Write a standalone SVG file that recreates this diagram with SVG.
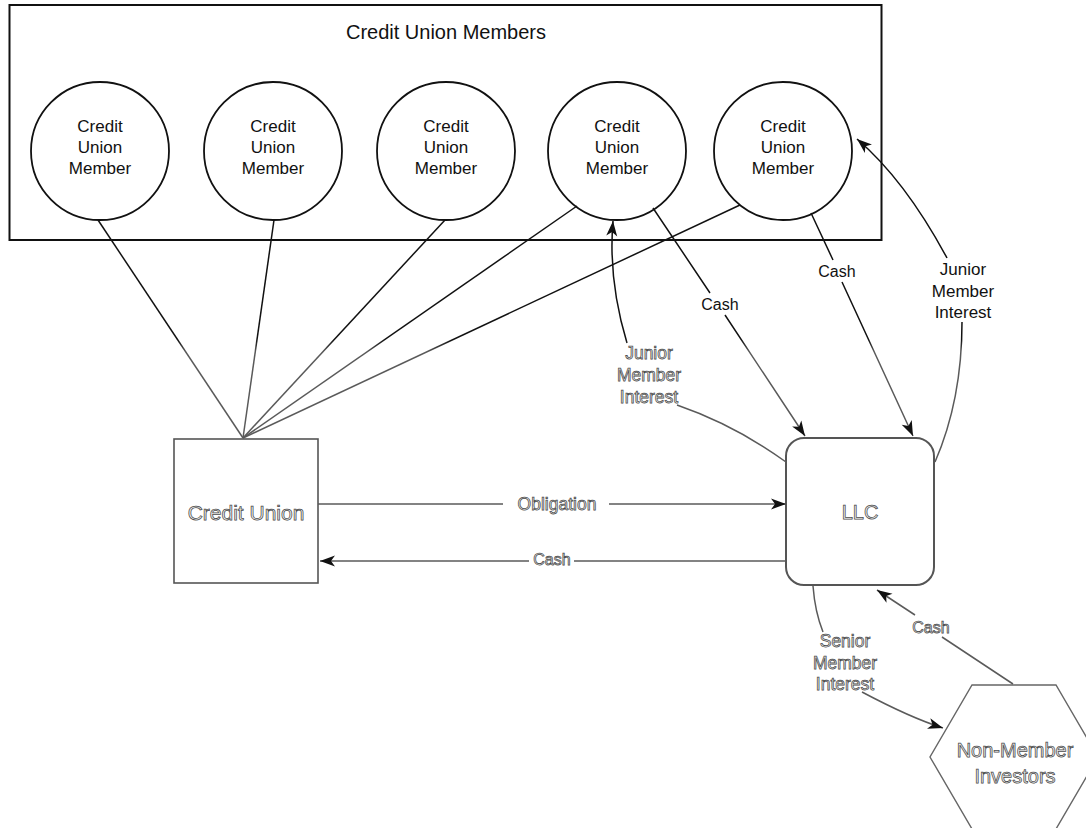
<svg xmlns="http://www.w3.org/2000/svg" width="1086" height="828" viewBox="0 0 1086 828">
<defs>
<linearGradient id="fade" gradientUnits="userSpaceOnUse" x1="0" y1="0" x2="0" y2="828">
<stop offset="0" stop-color="#111"/>
<stop offset="0.41" stop-color="#111"/>
<stop offset="0.425" stop-color="#5a5a5a"/>
<stop offset="1" stop-color="#5a5a5a"/>
</linearGradient>
<marker id="arr" markerUnits="userSpaceOnUse" markerWidth="16" markerHeight="12" refX="15" refY="5.5" orient="auto" overflow="visible">
<path d="M0,0 L15,5.5 L0,11 L4,5.5 Z" fill="#111"/>
</marker>
<style>
.t{font-family:"Liberation Sans",Arial,sans-serif;fill:#111;text-anchor:middle}
.g{font-family:"Liberation Sans",Arial,sans-serif;fill:#f2f2f2;stroke:#4a4a4a;stroke-width:0.75;text-anchor:middle}
.circ{fill:#fff;stroke:#111;stroke-width:1.8}
.ln{fill:none;stroke:url(#fade);stroke-width:1.5}
.ar{marker-end:url(#arr)}
</style>
</defs>
<rect width="1086" height="828" fill="#fff"/>

<g id="members-container">
<rect x="9.5" y="5" width="872" height="235" fill="none" stroke="#111" stroke-width="2"/>
<text class="t" x="446" y="39" font-size="20">Credit Union Members</text>
</g>

<g id="member1">
<circle class="circ" cx="100" cy="151" r="69"/>
<text class="t" x="100" font-size="17"><tspan x="100" y="132">Credit</tspan><tspan x="100" y="153">Union</tspan><tspan x="100" y="174">Member</tspan></text>
</g>
<g id="member2">
<circle class="circ" cx="273" cy="151" r="69"/>
<text class="t" x="273" font-size="17"><tspan x="273" y="132">Credit</tspan><tspan x="273" y="153">Union</tspan><tspan x="273" y="174">Member</tspan></text>
</g>
<g id="member3">
<circle class="circ" cx="446" cy="151" r="69"/>
<text class="t" x="446" font-size="17"><tspan x="446" y="132">Credit</tspan><tspan x="446" y="153">Union</tspan><tspan x="446" y="174">Member</tspan></text>
</g>
<g id="member4">
<circle class="circ" cx="617" cy="151" r="69"/>
<text class="t" x="617" font-size="17"><tspan x="617" y="132">Credit</tspan><tspan x="617" y="153">Union</tspan><tspan x="617" y="174">Member</tspan></text>
</g>
<g id="member5">
<circle class="circ" cx="783" cy="151" r="69"/>
<text class="t" x="783" font-size="17"><tspan x="783" y="132">Credit</tspan><tspan x="783" y="153">Union</tspan><tspan x="783" y="174">Member</tspan></text>
</g>

<g id="credit-union">
<rect x="174" y="439" width="144" height="144" fill="#fff" stroke="#555" stroke-width="1.6"/>
<text class="g" x="246" y="520" font-size="21">Credit Union</text>
</g>

<g id="llc">
<rect x="786" y="438" width="148" height="147" rx="18" fill="#fff" stroke="#555" stroke-width="2"/>
<text class="g" x="860" y="519" font-size="20">LLC</text>
</g>

<g id="investors">
<polygon points="972,685 1056,685 1098,757 1056,829 972,829 930,757" fill="#fff" stroke="#666" stroke-width="1.4"/>
<text class="g" font-size="20"><tspan x="1015" y="757">Non-Member</tspan><tspan x="1015" y="783">Investors</tspan></text>
</g>

<g id="connectors">
<path class="ln" d="M98,220 L243,438"/>
<path class="ln" d="M274,220 L243,438"/>
<path class="ln" d="M445,220 L243,438"/>
<path class="ln" d="M577,206 L243,438"/>
<path class="ln" d="M740,205 L243,438"/>

<path class="ln ar" d="M653,208 L710,293 M725,315 L805,436"/>
<text class="t" x="720" y="310" font-size="16">Cash</text>

<path class="ln ar" d="M811,213 L833,260 M842,282 L913,436"/>
<text class="t" x="837" y="277" font-size="16">Cash</text>

<path class="ln ar" d="M935,462 Q962,400 962,322 M947,258 Q905,180 857,139"/>
<text class="t" font-size="17"><tspan x="963" y="275">Junior</tspan><tspan x="963" y="297">Member</tspan><tspan x="963" y="318">Interest</tspan></text>

<path class="ln ar" d="M786,462 Q735,425 677,405 M627,343 Q608,280 613,221"/>
<text class="g" font-size="17.5"><tspan x="649" y="359">Junior</tspan><tspan x="649" y="381">Member</tspan><tspan x="649" y="403">Interest</tspan></text>

<path class="ln ar" d="M318,504 L503,504 M609,504 L786,504"/>
<text class="g" x="557" y="510" font-size="17.5">Obligation</text>

<path class="ln ar" d="M786,561 L574,561 M529,561 L320,561"/>
<text class="g" x="552" y="565" font-size="16">Cash</text>

<path class="ln ar" d="M813,586 Q815,612 823,632 M862,692 Q911,718 943,728"/>
<text class="g" font-size="17.5"><tspan x="845" y="647">Senior</tspan><tspan x="845" y="669">Member</tspan><tspan x="845" y="690">Interest</tspan></text>

<path class="ln ar" d="M1013,684 L942,637 M915,615 L877,590"/>
<text class="g" x="931" y="633" font-size="16">Cash</text>
</g>
</svg>
